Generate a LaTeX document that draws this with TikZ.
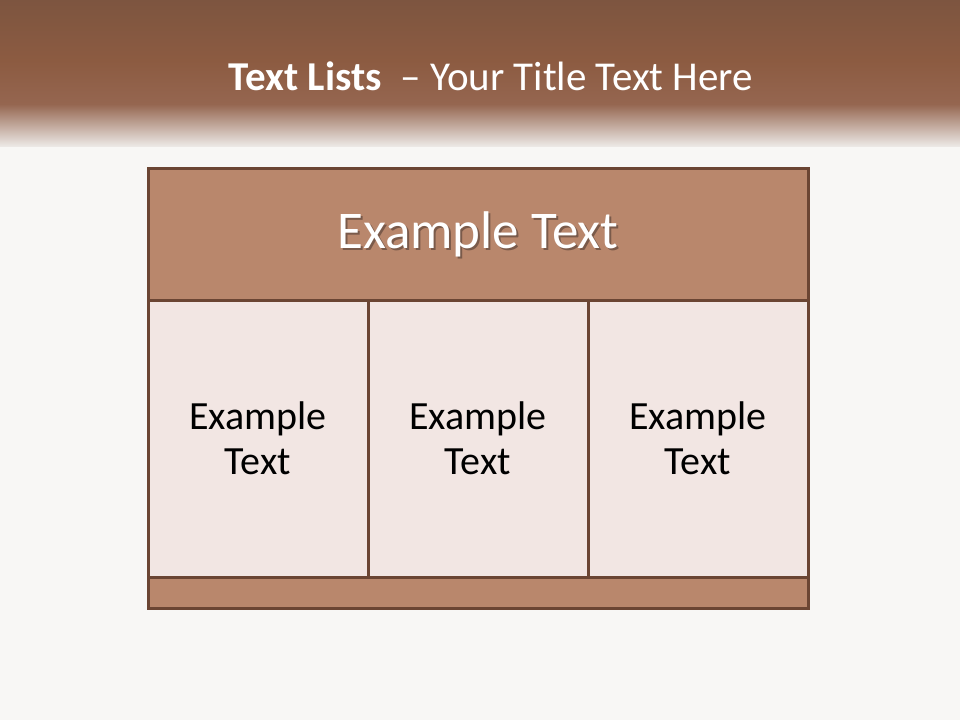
\documentclass[tikz,border=0pt]{standalone}
\usepackage{fontspec}
\setmainfont{Carlito}
\usetikzlibrary{positioning}
\definecolor{bandtop}{HTML}{7D5540}
\definecolor{bandmid}{HTML}{8C5B41}
\definecolor{bandlow}{HTML}{956650}
\definecolor{bandfade}{HTML}{ECE8E5}
\definecolor{bgc}{HTML}{F8F7F5}
\definecolor{edgec}{HTML}{6B4533}
\definecolor{headc}{HTML}{B9876C}
\definecolor{cellc}{HTML}{F2E6E3}
\definecolor{shadowc}{HTML}{7A5A4A}
\tikzset{
  box/.style={draw=edgec, line width=3pt},
  headbox/.style={box, fill=headc},
  cellbox/.style={box, fill=cellc},
  celltext/.style={font=\fontsize{40}{45}\selectfont, align=center, text=black},
}
\newcommand{\shadowtext}[1]{\rlap{\hspace{2pt}\raisebox{-2pt}{\color{shadowc}#1}}{\color{white}#1}}
\begin{document}
\begin{tikzpicture}[x=1pt,y=-1pt]
\useasboundingbox (0,0) rectangle (960,720);
% background
\fill[bgc] (0,0) rectangle (960,720);
\shade[top color=bandtop, bottom color=bandmid] (0,0) rectangle (960,60);
\shade[top color=bandmid, bottom color=bandlow] (0,60) rectangle (960,104);
\shade[top color=bandlow, bottom color=bandfade] (0,104) rectangle (960,146);
% title
\node (title) at (491,76) {\color{white}\fontsize{41}{46}\selectfont\textbf{Text Lists}\ \ – Your Title Text Here};
% table
\draw[cellbox] (148,300) rectangle (368,577);
\draw[cellbox] (368,300) rectangle (588,577);
\draw[cellbox] (588,300) rectangle (808,577);
\draw[headbox] (148,168) rectangle (808,300);
\draw[headbox] (148,577) rectangle (808,608);
\node (c1) [celltext] at (258,438) {Example\\Text};
\node (c2) [celltext] at (478,438) {Example\\Text};
\node (c3) [celltext] at (698,438) {Example\\Text};
\node (head) at (478,235) {\fontsize{53}{60}\selectfont\shadowtext{Example Text}};
\end{tikzpicture}
\end{document}
